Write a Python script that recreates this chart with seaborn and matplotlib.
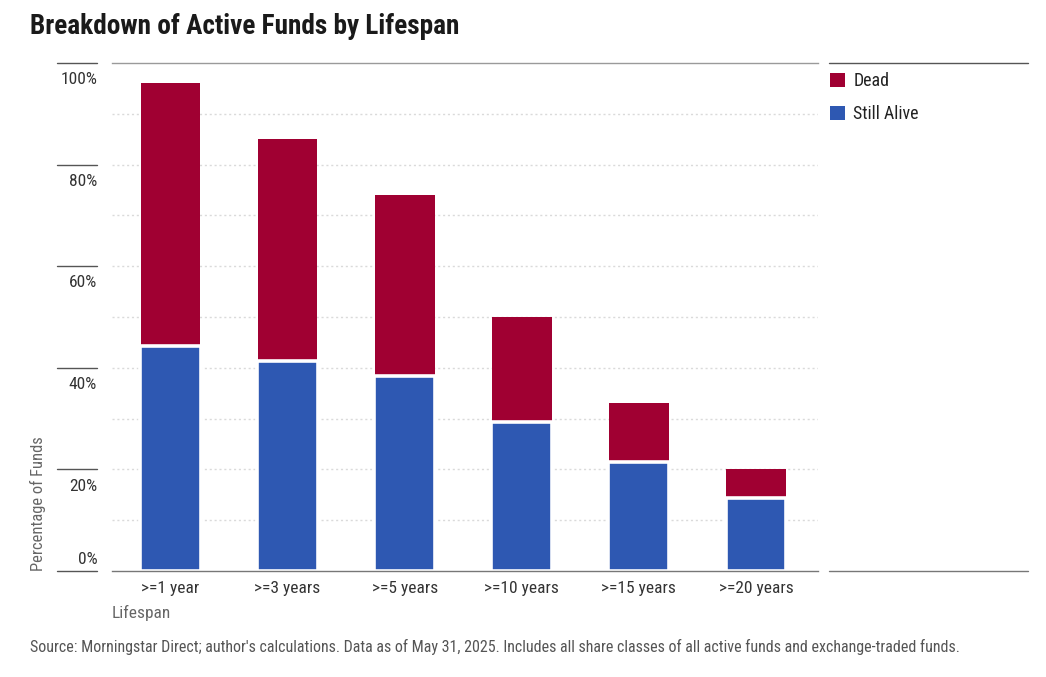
import numpy as np
import pandas as pd
import seaborn as sns
import matplotlib.pyplot as plt
from matplotlib import font_manager
from matplotlib.patches import Patch
from matplotlib.lines import Line2D

# data (percent of funds)
lifespans = [">=1 year", ">=3 years", ">=5 years", ">=10 years", ">=15 years", ">=20 years"]
still_alive = [44.3, 41.3, 38.4, 29.3, 21.5, 14.4]
dead = [51.8, 43.7, 35.6, 20.7, 11.6, 5.7]
y_ticks = [0, 20, 40, 60, 80, 100]

red = "#A00032"
blue = "#2E58B2"

sns.set_theme(style="white")

# prefer a condensed face, otherwise shrink a normal one
installed = {f.name for f in font_manager.fontManager.ttflist}
font, k = "DejaVu Sans", 0.72
for name, scale in [("Roboto Condensed", 1.0), ("Liberation Sans Narrow", 1.0),
                    ("Open Sans Condensed", 1.0), ("Roboto", 0.84), ("Liberation Sans", 0.84)]:
    if name in installed:
        font, k = name, scale
        break
plt.rcParams["font.family"] = [font, "DejaVu Sans"]
fs = 12.5 * k

df = pd.DataFrame({"Lifespan": lifespans, "Still Alive": still_alive, "Dead": dead})
df["Total"] = df["Still Alive"] + df["Dead"]

fig = plt.figure(figsize=(10.46, 6.77), dpi=100)
ax = fig.add_axes([112 / 1046, 1 - 571 / 677, (818 - 112) / 1046, (571 - 63) / 677])

# total bar in red, alive bar drawn over it in blue (white edge gives the gap)
sns.barplot(data=df, x="Lifespan", y="Total", color=red, width=0.51, saturation=1,
            edgecolor="white", linewidth=0, ax=ax)
sns.barplot(data=df, x="Lifespan", y="Still Alive", color=blue, width=0.52, saturation=1,
            edgecolor="white", linewidth=2.6, ax=ax)

ax.set_ylim(0, 100)
ax.set_xlim(-0.5, 5.53)
ax.set_yticks(np.arange(10, 100, 10))
ax.yaxis.grid(True, color="#dadada", linestyle=(0, (1.5, 2)), linewidth=1)
ax.set_axisbelow(True)
ax.tick_params(axis="y", left=False, labelleft=False)
ax.tick_params(axis="x", bottom=False, labelsize=fs, labelcolor="#333333", pad=1.5)

for s in ["left", "right"]:
    ax.spines[s].set_visible(False)
ax.spines["top"].set_color("#9a9a9a")
ax.spines["bottom"].set_color("#777777")
ax.spines["top"].set_linewidth(1)
ax.spines["bottom"].set_linewidth(1)

ax.set_ylabel("")
ax.set_xlabel("Lifespan", loc="left", fontsize=fs, color="#666666", labelpad=6)

# y tick labels with short lines, Morningstar style
ytr = ax.get_yaxis_transform()
for t in y_ticks:
    ax.plot([-0.078, -0.021], [t, t], transform=ytr, color="#555555", lw=1, clip_on=False)
    if t == 0:
        ax.text(-0.021, t + 0.7, f"{t}%", transform=ytr, ha="right", va="bottom",
                fontsize=fs, color="#333333")
    else:
        ax.text(-0.021, t - 1.8, f"{t}%", transform=ytr, ha="right", va="top",
                fontsize=fs, color="#333333")

fig.text(38 / 1046, 1 - 571 / 677, "Percentage of Funds", rotation=90, ha="center",
         va="bottom", fontsize=fs * 0.95, color="#666666")

# legend column
for yy, c in [(63, "#555555"), (571, "#777777")]:
    fig.add_artist(Line2D([829 / 1046, 1028 / 1046], [1 - yy / 677, 1 - yy / 677],
                          transform=fig.transFigure, color=c, lw=1))
handles = [Patch(facecolor=red, edgecolor="none", label="Dead"),
           Patch(facecolor=blue, edgecolor="none", label="Still Alive")]
fig.legend(handles=handles, loc="upper left", bbox_to_anchor=(830 / 1046, 1 - 72 / 677),
           frameon=False, borderpad=0, borderaxespad=0, fontsize=fs * 1.03, handlelength=0.85,
           handleheight=0.85, handletextpad=0.45, labelspacing=0.86, labelcolor="#222222")

fig.text(30 / 1046, 1 - 27 / 677, "Breakdown of Active Funds by Lifespan", ha="left",
         va="center", fontsize=19.6 * k, fontweight="bold", color="#1a1a1a")
fig.text(30 / 1046, 1 - 647 / 677,
         "Source: Morningstar Direct; author's calculations. Data as of May 31, 2025. "
         "Includes all share classes of all active funds and exchange-traded funds.",
         ha="left", va="center", fontsize=11.5 * k, color="#555555")

fig.savefig("out.png", dpi=100)
